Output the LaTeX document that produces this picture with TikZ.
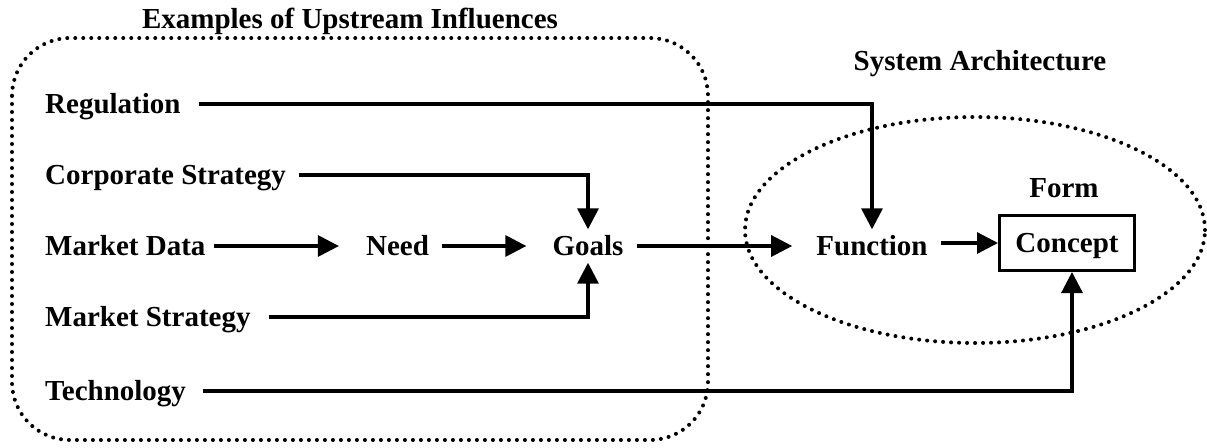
\documentclass[tikz,border=0pt]{standalone}
\usepackage{fontspec}
\setmainfont{Liberation Serif}
\usetikzlibrary{arrows.meta}

\begin{document}
\begin{tikzpicture}[x=1pt, y=-1pt,
  lbl/.style={font=\fontsize{29}{33}\selectfont\bfseries, text height=19pt, text depth=0pt,
              inner xsep=13pt, inner ysep=7pt},
  heading/.style={font=\fontsize{29}{33}\selectfont\bfseries, text height=19pt, text depth=0pt,
              inner sep=0pt},
  boxed/.style={lbl, draw, line width=3pt, minimum width=135pt, minimum height=55pt, inner xsep=0pt},
  conn/.style={line width=3.2pt, -{Triangle[length=21pt,width=21pt]}},
  dotline/.style={line width=4pt, line cap=round, dash pattern=on 0pt off 8pt}
]
\useasboundingbox (0,0) rectangle (1207,447);

% grouping outlines
\draw[dotline, rounded corners=58pt] (12,38) rectangle (708,440);
\draw[dotline] (975,230) ellipse [x radius=230pt, y radius=113pt];

% headings
\node[heading] (upstream) at (350,18.5) {Examples of Upstream Influences};
\node[heading] (sysarch) at (980,60.5) {System Architecture};

% influences
\node[lbl, anchor=west] (reg)    at (32,104) {Regulation};
\node[lbl, anchor=west] (corp)   at (32,175) {Corporate Strategy};
\node[lbl, anchor=west] (mdata)  at (32,246) {Market Data};
\node[lbl, anchor=west] (mstrat) at (32,317) {Market Strategy};
\node[lbl, anchor=west] (tech)   at (32,391) {Technology};

% main chain
\node[lbl] (need)  at (397.5,246) {Need};
\node[lbl] (goals) at (588,246) {Goals};
\node[lbl] (func)  at (872,246) {Function};
\node[boxed] (concept) at (1067,243) {Concept};
\node[heading] (form) at (1064,187.5) {Form};

% connectors
\draw[conn, shorten <=5pt] (reg.east) -| (func.north);
\draw[conn] (corp.east) -| (goals.north);
\draw[conn, shorten <=-5pt, shorten >=14pt] (mdata.east) -- (need.west);
\draw[conn, shorten <=5pt] (mstrat.east) -| (goals.south);
\draw[conn, shorten <=4pt] (tech.east) -| ([xshift=5pt]concept.south);
\draw[conn, shorten >=13pt] (need.east) -- (goals.west);
\draw[conn, shorten >=11pt] (goals.east) -- (func.west);
\draw[conn] (func.east |- concept.west) -- (concept.west);
\end{tikzpicture}
\end{document}
